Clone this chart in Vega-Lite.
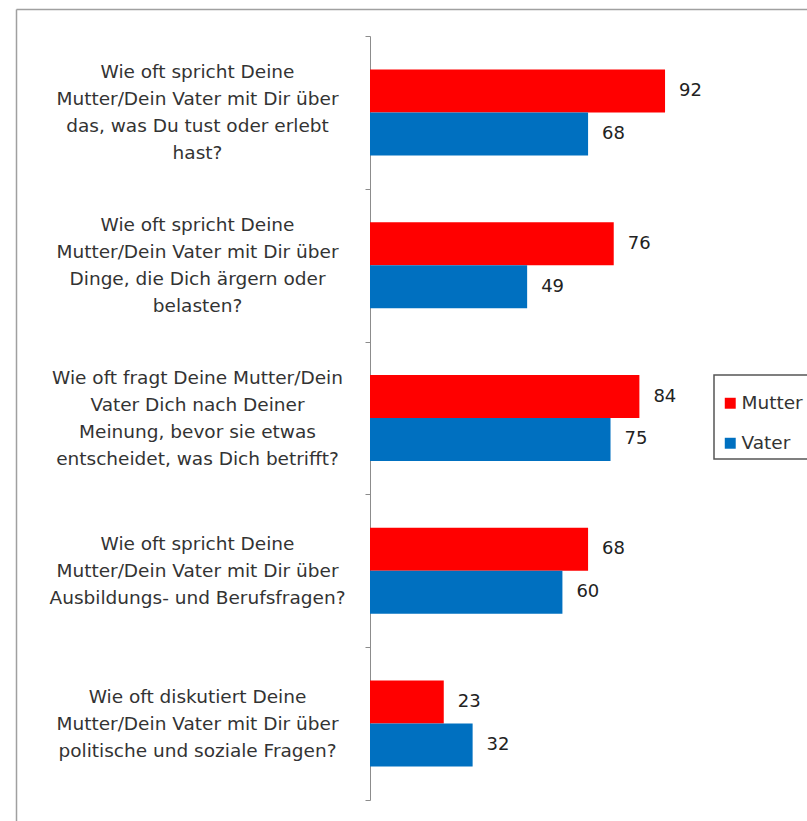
{
  "$schema": "https://vega.github.io/schema/vega-lite/v6.json",
  "autosize": "none",
  "width": 791,
  "height": 812,
  "padding": {"left": 16, "top": 9, "right": 0, "bottom": 0},
  "background": "white",
  "config": {"view": {"stroke": null}, "legend": {"strokeWidth": 1.5}},
  "data": {
    "values": [
      {"q": "Wie oft spricht Deine|Mutter/Dein Vater mit Dir über|das, was Du tust oder erlebt|hast?", "parent": "Mutter", "value": 92},
      {"q": "Wie oft spricht Deine|Mutter/Dein Vater mit Dir über|das, was Du tust oder erlebt|hast?", "parent": "Vater", "value": 68},
      {"q": "Wie oft spricht Deine|Mutter/Dein Vater mit Dir über|Dinge, die Dich ärgern oder|belasten?", "parent": "Mutter", "value": 76},
      {"q": "Wie oft spricht Deine|Mutter/Dein Vater mit Dir über|Dinge, die Dich ärgern oder|belasten?", "parent": "Vater", "value": 49},
      {"q": "Wie oft fragt Deine Mutter/Dein|Vater Dich nach Deiner|Meinung, bevor sie etwas|entscheidet, was Dich betrifft?", "parent": "Mutter", "value": 84},
      {"q": "Wie oft fragt Deine Mutter/Dein|Vater Dich nach Deiner|Meinung, bevor sie etwas|entscheidet, was Dich betrifft?", "parent": "Vater", "value": 75},
      {"q": "Wie oft spricht Deine|Mutter/Dein Vater mit Dir über|Ausbildungs- und Berufsfragen?", "parent": "Mutter", "value": 68},
      {"q": "Wie oft spricht Deine|Mutter/Dein Vater mit Dir über|Ausbildungs- und Berufsfragen?", "parent": "Vater", "value": 60},
      {"q": "Wie oft diskutiert Deine|Mutter/Dein Vater mit Dir über|politische und soziale Fragen?", "parent": "Mutter", "value": 23},
      {"q": "Wie oft diskutiert Deine|Mutter/Dein Vater mit Dir über|politische und soziale Fragen?", "parent": "Vater", "value": 32}
    ]
  },
  "layer": [
    {
      "encoding": {
        "y": {
          "field": "q", "type": "nominal", "sort": null,
          "scale": {"paddingInner": 0, "paddingOuter": 0, "range": [27, 791]},
          "axis": {
            "title": null,
            "offset": -354,
            "tickBand": "extent",
            "tickSize": 5,
            "tickColor": "#8c8c8c",
            "domainColor": "#8c8c8c",
            "labelExpr": "split(datum.label, '|')",
            "labelAlign": "center",
            "labelBaseline": "middle",
            "labelPadding": 168,
            "labelOffset": {"condition": {"test": "length(split(datum.value, '|')) == 4", "value": -40.5}, "value": -27},
            "labelFont": "DejaVu Sans",
            "labelFontSize": 18.5,
            "labelLineHeight": 27,
            "labelColor": "#333333",
            "labelLimit": 0
          }
        },
        "yOffset": {
          "field": "parent", "type": "nominal",
          "scale": {"paddingOuter": 0.777, "paddingInner": 0}
        },
        "x": {
          "field": "value", "type": "quantitative",
          "scale": {"domain": [0, 100], "nice": false, "range": [354, 674.7]},
          "axis": null
        }
      },
      "layer": [
        {
          "mark": {"type": "bar"},
          "encoding": {
            "color": {
              "field": "parent", "type": "nominal",
              "scale": {"domain": ["Mutter", "Vater"], "range": ["#FF0000", "#0070C0"]},
              "legend": {
                "title": "                                            ",
                "titleFontSize": 8,
                "titlePadding": 5,
                "titleLimit": 0,
                "orient": "none",
                "legendX": 698,
                "legendY": 366,
                "padding": 6,
                "strokeColor": "#555555",
                "fillColor": "white",
                "symbolType": "square",
                "symbolSize": 120,
                "symbolStrokeWidth": 0,
                "symbolOffset": 1,
                "labelFont": "DejaVu Sans",
                "labelFontSize": 18.5,
                "labelColor": "#333333",
                "labelOffset": 2,
                "rowPadding": 21
              }
            }
          }
        },
        {
          "mark": {"type": "text", "align": "left", "baseline": "middle", "dx": 14, "font": "DejaVu Sans", "fontSize": 18, "color": "#222222"},
          "encoding": {
            "text": {"field": "value", "type": "quantitative"}
          }
        }
      ]
    },
    {
      "mark": {"type": "point", "opacity": 0},
      "encoding": {
        "x": {
          "field": "value", "type": "quantitative",
          "axis": {"orient": "top", "title": null, "labels": false, "ticks": false, "grid": false, "domainColor": "#a0a0a0", "domainWidth": 1.5}
        },
        "y": {
          "field": "value", "type": "quantitative",
          "axis": {"orient": "left", "title": null, "labels": false, "ticks": false, "grid": false, "domainColor": "#a0a0a0", "domainWidth": 1.5}
        }
      }
    }
  ],
  "resolve": {"scale": {"x": "independent", "y": "independent"}}
}
